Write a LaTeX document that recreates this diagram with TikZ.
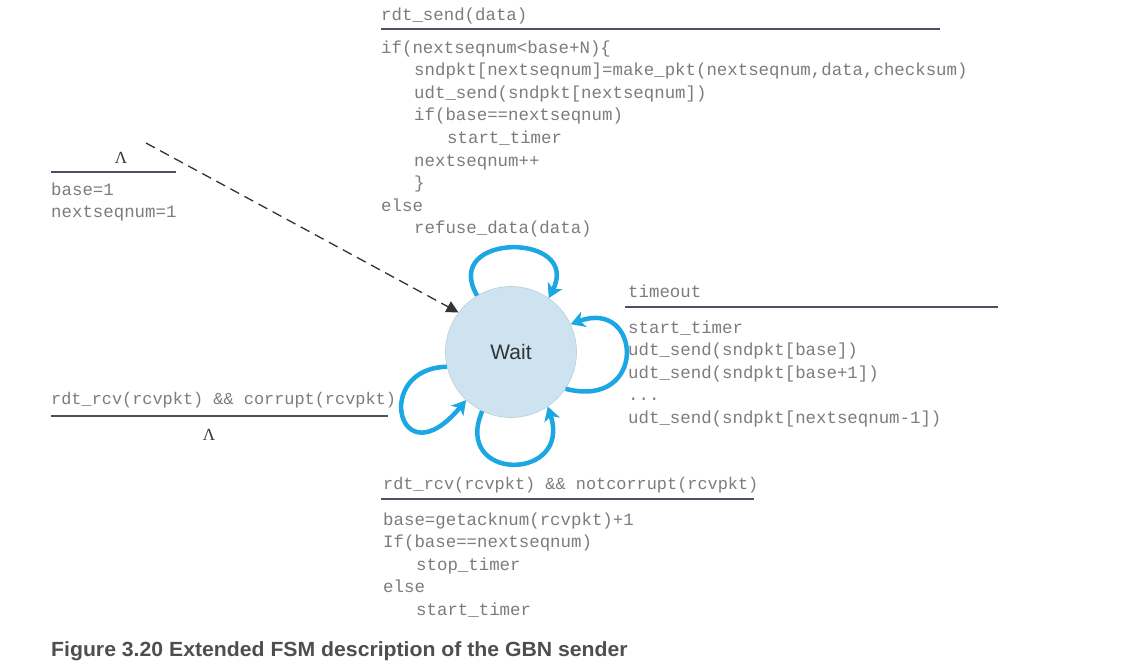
\documentclass[tikz,border=0pt]{standalone}
\usepackage{fontspec}
\setmainfont{Liberation Sans}
\newfontfamily\codefont{Liberation Mono}
\newfontfamily\lamfont{Liberation Serif}
\usetikzlibrary{arrows.meta}
\definecolor{codegray}{HTML}{7C7C7C}
\definecolor{rulegray}{HTML}{4A5160}
\definecolor{loopblue}{HTML}{1AA7E4}
\definecolor{statefill}{HTML}{CDE3F0}
\definecolor{capgray}{HTML}{4E4E4E}
\newcommand{\ind}{\kern33pt}
\newcommand{\indd}{\kern66pt}
\tikzset{
  code/.style={font=\codefont\fontsize{17.4}{22.6}\selectfont, text=codegray, inner sep=0pt, anchor=base west},
  narrowcode/.style={code, font=\codefont\fontsize{16.9}{22.6}\selectfont},
  lam/.style={font=\lamfont\fontsize{17}{20}\selectfont, text=black!80, inner sep=0pt, anchor=base},
  rulel/.style={draw=rulegray, line width=2pt},
  loope/.style={draw=loopblue, line width=4.5pt, -{Stealth[length=14pt,width=16pt,inset=4pt]}},
  state/.style={circle, fill=statefill, draw=statefill!80!gray, line width=0.6pt, minimum size=131pt, inner sep=0pt, font=\fontsize{21}{24}\selectfont, text=black!80}
}
\begin{document}
\begin{tikzpicture}[x=1pt,y=-1pt]
\useasboundingbox (0,0) rectangle (1123,662);

% state
\node[state] (wait) at (511,352) {Wait};

% initial transition
\node[lam] (lam1) at (121,163) {Λ};
\coordinate (r1a) at (51,172); \coordinate (r1b) at (176,172);
\draw[rulel] (r1a) -- (r1b);
\node[code] (init) at (51,195) {\vtop{\hbox{base=1}\hbox{nextseqnum=1}}};
\coordinate (dstart) at (146,143);
\draw[black!80, line width=1.3pt, dash pattern=on 10pt off 6pt, -{Triangle[length=12pt,width=12pt]}] (dstart) -- (wait.143);

% top transition
\node[code] (sendev) at (381,20) {rdt\_send(data)};
\coordinate (r2a) at (381,29); \coordinate (r2b) at (940,29);
\draw[rulel] (r2a) -- (r2b);
\node[code] (sendact) at (381,53) {\vtop{%
\hbox{if(nextseqnum<base+N)\{}%
\hbox{\ind sndpkt[nextseqnum]=make\_pkt(nextseqnum,data,checksum)}%
\hbox{\ind udt\_send(sndpkt[nextseqnum])}%
\hbox{\ind if(base==nextseqnum)}%
\hbox{\indd start\_timer}%
\hbox{\ind nextseqnum++}%
\hbox{\ind \}}%
\hbox{else}%
\hbox{\ind refuse\_data(data)}}};

% right transition
\node[code] (toev) at (628,297) {timeout};
\coordinate (r3a) at (625,307); \coordinate (r3b) at (998,307);
\draw[rulel] (r3a) -- (r3b);
\node[code] (toact) at (628,333) {\vtop{%
\hbox{start\_timer}%
\hbox{udt\_send(sndpkt[base])}%
\hbox{udt\_send(sndpkt[base+1])}%
\hbox{...}%
\hbox{udt\_send(sndpkt[nextseqnum-1])}}};

% left transition
\node[narrowcode] (corev) at (51,404) {rdt\_rcv(rcvpkt) \&\& corrupt(rcvpkt)};
\coordinate (r4a) at (51,416); \coordinate (r4b) at (388,416);
\draw[rulel] (r4a) -- (r4b);
\node[lam] (lam2) at (209,440) {Λ};

% bottom transition
\node[narrowcode] (okev) at (383,489) {rdt\_rcv(rcvpkt) \&\& notcorrupt(rcvpkt)};
\coordinate (r5a) at (381,499); \coordinate (r5b) at (754,499);
\draw[rulel] (r5a) -- (r5b);
\node[code] (okact) at (383,525) {\vtop{%
\hbox{base=getacknum(rcvpkt)+1}%
\hbox{If(base==nextseqnum)}%
\hbox{\ind stop\_timer}%
\hbox{else}%
\hbox{\ind start\_timer}}};

% self loops
\draw[loope] (wait.121) .. controls (440,232) and (582,232) .. (wait.55);
\draw[loope] (wait.-34) .. controls (648,410) and (642,298) .. (wait.25);
\draw[loope] (wait.-116) .. controls (452,482) and (572,482) .. (wait.-56);
\draw[loope] (wait.193) .. controls (372,368) and (398,482) .. (wait.227);

% caption
\node[font=\bfseries\fontsize{20.5}{24}\selectfont, text=capgray, inner sep=0pt, anchor=base west, xscale=1.035] (cap) at (51,656) {Figure 3.20 Extended FSM description of the GBN sender};
\end{tikzpicture}
\end{document}
